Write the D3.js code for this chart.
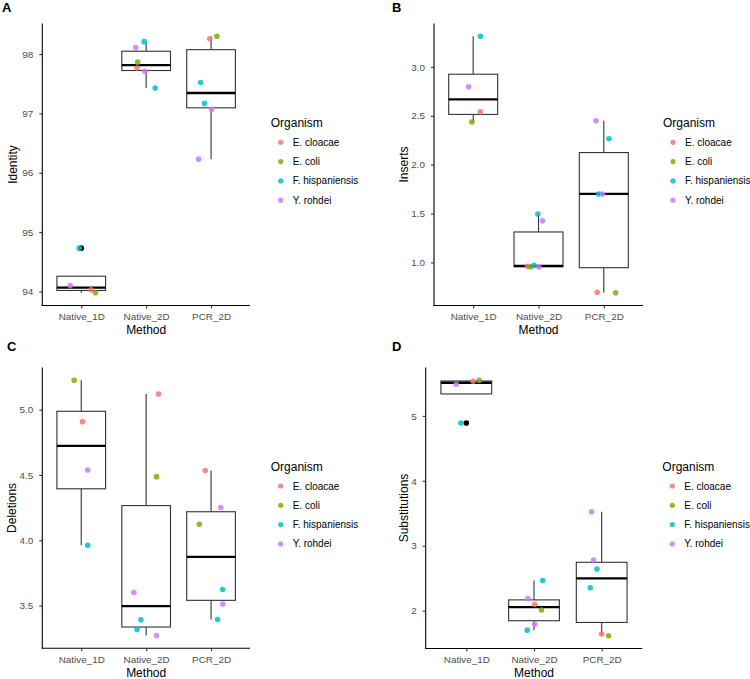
<!DOCTYPE html>
<html><head><meta charset="utf-8">
<script src="https://cdn.jsdelivr.net/npm/d3@7"></script>
<style>
body{margin:0;background:#fff}
text{font-family:"Liberation Sans",Arial,Helvetica,sans-serif}
</style>
</head><body>
<svg id="chart" width="750" height="679"></svg>
<script>
// ---------- data ----------
const methods = ["Native_1D", "Native_2D", "PCR_2D"];
const organisms = ["E. cloacae", "E. coli", "F. hispaniensis", "Y. rohdei"];
const orgColors = ["#F8766D", "#7CAE00", "#00BFC4", "#C77CFF"];

// Identity (panel A): organism index, value, horizontal jitter (category units) per method
const identityOrg = [[2, 3, 0, 1], [3, 2, 1, 0, 3, 2], [0, 1, 2, 2, 3, 3]];
const identityVal = [[94.73, 94.10, 94.03, 93.98], [98.11, 98.21, 97.865, 97.765, 97.71, 97.43], [98.26, 98.30, 97.52, 97.17, 97.07, 96.23]];
const identityJit = [[-0.03, -0.17, 0.15, 0.22], [-0.16, -0.03, -0.13, -0.14, -0.02, 0.14], [-0.02, 0.09, -0.16, -0.10, 0.01, -0.19]];
const identityTicks = [94, 95, 96, 97, 98];

// Inserts (panel B)
const insertsOrg = [[2, 3, 0, 1], [2, 3, 0, 1, 2, 3], [3, 2, 2, 3, 0, 1]];
const insertsVal = [[3.313, 2.796, 2.54, 2.436], [1.494, 1.425, 0.959, 0.953, 0.97, 0.953], [2.449, 2.265, 1.70, 1.70, 0.694, 0.69]];
const insertsJit = [[0.11, -0.07, 0.11, -0.02], [-0.01, 0.06, -0.17, -0.12, -0.07, 0.005], [-0.12, 0.08, -0.08, -0.02, -0.10, 0.18]];
const insertsTicks = [1.0, 1.5, 2.0, 2.5, 3.0];

// Deletions (panel C)
const deletionsOrg = [[1, 0, 3, 2], [0, 1, 3, 2, 2, 3], [0, 3, 1, 2, 3, 2]];
const deletionsVal = [[5.225, 4.908, 4.538, 3.961], [5.12, 4.487, 3.60, 3.39, 3.317, 3.27], [4.533, 4.25, 4.122, 3.622, 3.512, 3.393]];
const deletionsJit = [[-0.11, 0.02, 0.10, 0.10], [0.19, 0.16, -0.19, -0.08, -0.14, 0.16], [-0.09, 0.15, -0.18, 0.18, 0.18, 0.10]];
const deletionsTicks = [3.5, 4.0, 4.5, 5.0];

// Substitutions (panel D)
const substOrg = [[3, 0, 1, 2], [2, 3, 0, 1, 3, 2], [3, 3, 2, 2, 0, 1]];
const substVal = [[5.488, 5.534, 5.549, 4.89], [2.465, 2.188, 2.10, 2.01, 1.79, 1.70], [3.523, 2.78, 2.64, 2.354, 1.64, 1.614]];
const substJit = [[-0.15, 0.10, 0.19, -0.08], [0.13, -0.09, 0.01, 0.11, 0.01, -0.10], [-0.15, -0.12, -0.07, -0.17, 0, 0.10]];
const substTicks = [2, 3, 4, 5];

// ---------- layout ----------
const panels = [
  {letter: "A", ylabel: "Identity", org: identityOrg, val: identityVal, jit: identityJit, ticks: identityTicks, fmt: d3.format("d"),
   area: {x0: 42.3, x1: 250, y0: 23.5, y1: 305.5}, letterPos: [2, 11.7], ytitleX: 12.5, legendPos: [270.7, 127.3]},
  {letter: "B", ylabel: "Inserts", org: insertsOrg, val: insertsVal, jit: insertsJit, ticks: insertsTicks, fmt: d3.format(".1f"),
   area: {x0: 434, x1: 643, y0: 23.5, y1: 305.5}, letterPos: [392, 11.7], ytitleX: 404, legendPos: [663, 127.3]},
  {letter: "C", ylabel: "Deletions", org: deletionsOrg, val: deletionsVal, jit: deletionsJit, ticks: deletionsTicks, fmt: d3.format(".1f"),
   area: {x0: 42.3, x1: 250, y0: 367.5, y1: 648.3}, letterPos: [7, 350.7], ytitleX: 12, legendPos: [270.7, 471]},
  {letter: "D", ylabel: "Substitutions", org: substOrg, val: substVal, jit: substJit, ticks: substTicks, fmt: d3.format("d"),
   area: {x0: 425.7, x1: 642.3, y0: 367.5, y1: 648.5}, letterPos: [392, 350.7], ytitleX: 404, legendPos: [662.3, 471]}
];

const svg = d3.select("#chart");
svg.append("rect").attr("width", 750).attr("height", 679).attr("fill", "#fff");

panels.forEach(p => {
  const g = svg.append("g");
  const a = p.area;
  const all = p.val.flat();
  const lo = d3.min(all), hi = d3.max(all), span = hi - lo;
  const y = d3.scaleLinear().domain([lo - 0.05 * span, hi + 0.05 * span]).range([a.y1, a.y0]);
  const x = d3.scalePoint().domain(methods).range([a.x0, a.x1]).padding(0.6);
  const step = x.step();
  const bw = step * 0.75;

  // boxplots
  methods.forEach((m, i) => {
    const v = p.val[i].slice().sort(d3.ascending);
    const q1 = d3.quantileSorted(v, 0.25), med = d3.quantileSorted(v, 0.5), q3 = d3.quantileSorted(v, 0.75);
    const iqr = q3 - q1;
    const inside = v.filter(d => d >= q1 - 1.5 * iqr && d <= q3 + 1.5 * iqr);
    const outl = v.filter(d => d < q1 - 1.5 * iqr || d > q3 + 1.5 * iqr);
    const wlo = d3.min(inside), whi = d3.max(inside);
    const cx = x(m);
    g.append("line").attr("x1", cx).attr("x2", cx).attr("y1", y(whi)).attr("y2", y(q3))
      .attr("stroke", "#333").attr("stroke-width", 1.1);
    g.append("line").attr("x1", cx).attr("x2", cx).attr("y1", y(q1)).attr("y2", y(wlo))
      .attr("stroke", "#333").attr("stroke-width", 1.1);
    g.append("rect").attr("x", cx - bw / 2).attr("width", bw).attr("y", y(q3)).attr("height", y(q1) - y(q3))
      .attr("fill", "#fff").attr("stroke", "#333").attr("stroke-width", 1.1);
    g.append("line").attr("x1", cx - bw / 2).attr("x2", cx + bw / 2).attr("y1", y(med)).attr("y2", y(med))
      .attr("stroke", "#000").attr("stroke-width", 2.3);
    outl.forEach(o => {
      g.append("circle").attr("cx", cx).attr("cy", y(o)).attr("r", 2.8).attr("fill", "#000");
    });
  });

  // jittered points
  methods.forEach((m, i) => {
    p.val[i].forEach((v, j) => {
      g.append("circle")
        .attr("cx", x(m) + p.jit[i][j] * step)
        .attr("cy", y(v))
        .attr("r", 2.8)
        .attr("fill", orgColors[p.org[i][j]])
        .attr("fill-opacity", 0.85);
    });
  });

  // axes
  const yAxis = d3.axisLeft(y).tickValues(p.ticks).tickFormat(p.fmt).tickSize(3).tickPadding(6).tickSizeOuter(0);
  const ya = g.append("g").attr("transform", `translate(${a.x0},0)`).call(yAxis);
  const xAxis = d3.axisBottom(x).tickSize(3).tickPadding(4.4).tickSizeOuter(0);
  const xa = g.append("g").attr("transform", `translate(0,${a.y1})`).call(xAxis);
  [ya, xa].forEach(ax => {
    ax.select(".domain").attr("stroke", "#000").attr("stroke-width", 1.1);
    ax.selectAll(".tick line").attr("stroke", "#333").attr("stroke-width", 1.1);
    ax.selectAll(".tick text").attr("fill", "#4D4D4D").style("font-size", "9.9px")
      .style("font-family", '"Liberation Sans",Arial,sans-serif');
  });
  ya.select(".domain").attr("d", `M0,${a.y0}V${a.y1 + 0.5}`);
  xa.select(".domain").attr("d", `M${a.x0 - 0.5},0H${a.x1}`);

  // axis titles
  g.append("text").attr("x", (a.x0 + a.x1) / 2).attr("y", a.y1 + 28.5).attr("text-anchor", "middle")
    .style("font-size", "12px").attr("fill", "#000").text("Method");
  g.append("text").attr("transform", `translate(${p.ytitleX},${(a.y0 + a.y1) / 2}) rotate(-90)`)
    .attr("text-anchor", "middle").attr("dy", "0.35em").style("font-size", "12px").attr("fill", "#000").text(p.ylabel);

  // panel letter
  g.append("text").attr("x", p.letterPos[0]).attr("y", p.letterPos[1]).style("font-size", "13px")
    .style("font-weight", "bold").attr("fill", "#000").text(p.letter);

  // legend
  const lg = g.append("g").attr("transform", `translate(${p.legendPos[0]},${p.legendPos[1]})`);
  lg.append("text").attr("x", 0).attr("y", 0).style("font-size", "12px").attr("fill", "#000").text("Organism");
  organisms.forEach((o, k) => {
    const yy = 15 + k * 19.3;
    lg.append("circle").attr("cx", 10).attr("cy", yy).attr("r", 2.6).attr("fill", orgColors[k]).attr("fill-opacity", 0.85);
    lg.append("text").attr("x", 22).attr("y", yy).attr("dy", "0.35em").style("font-size", "10px")
      .attr("fill", "#000").text(o);
  });
});
</script>
</body></html>
